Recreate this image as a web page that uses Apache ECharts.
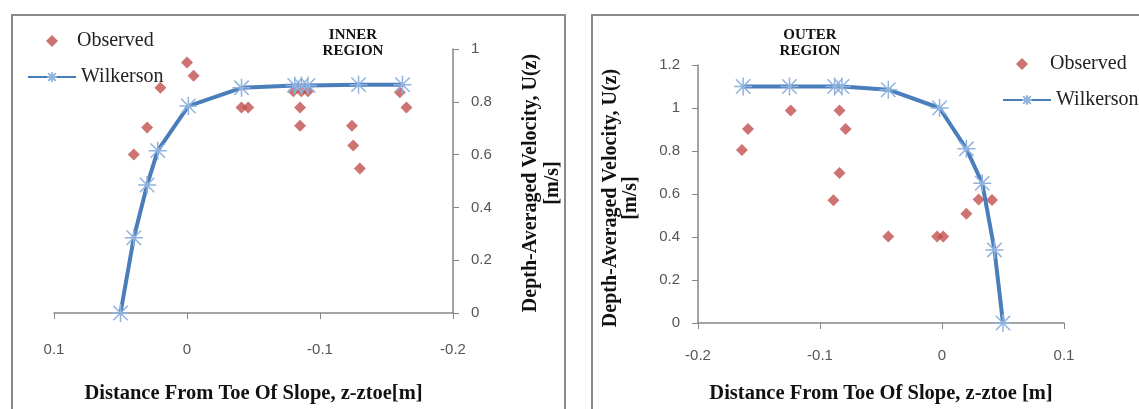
<!DOCTYPE html>
<html><head><meta charset="utf-8">
<script src="https://cdn.jsdelivr.net/npm/echarts@6/dist/echarts.min.js"></script>
<style>html,body{margin:0;padding:0;background:#fff}#c{width:1139px;height:409px}</style>
</head><body><div id="c"></div>
<script>
// ---- data ----
const seriesNames = ['Observed', 'Wilkerson'];
const panelTitles = ['INNER\nREGION', 'OUTER\nREGION'];
const xAxisTitle = ['Distance From Toe Of Slope, z-ztoe[m]', 'Distance From Toe Of Slope, z-ztoe [m]'];
const yAxisTitle = ['Depth-Averaged Velocity, U(z)', '[m/s]'];
const innerXTicks = [0.1, 0, -0.1, -0.2];
const innerYTicks = [0, 0.2, 0.4, 0.6, 0.8, 1];
const outerXTicks = [-0.2, -0.1, 0, 0.1];
const outerYTicks = [0, 0.2, 0.4, 0.6, 0.8, 1, 1.2];

// inner region [distance, velocity]
const innerObserved = [
  [0.000, 0.949], [-0.005, 0.899], [0.020, 0.853], [0.030, 0.703], [0.040, 0.600],
  [-0.041, 0.778], [-0.046, 0.778],
  [-0.080, 0.840], [-0.086, 0.840], [-0.091, 0.840], [-0.085, 0.778], [-0.085, 0.709],
  [-0.124, 0.709], [-0.125, 0.634], [-0.130, 0.547],
  [-0.160, 0.836], [-0.165, 0.778]
];
const innerWilkerson = [
  [0.050, 0.000], [0.040, 0.285], [0.030, 0.485], [0.022, 0.615], [-0.001, 0.784],
  [-0.041, 0.853], [-0.081, 0.862], [-0.086, 0.862], [-0.091, 0.862],
  [-0.129, 0.865], [-0.162, 0.865]
];
// outer region [distance, velocity]
const outerObserved = [
  [-0.164, 0.805], [-0.159, 0.902], [-0.124, 0.988], [-0.084, 0.988], [-0.079, 0.902],
  [-0.084, 0.698], [-0.089, 0.571], [-0.044, 0.402], [-0.004, 0.402], [0.001, 0.402],
  [0.020, 0.508], [0.030, 0.575], [0.041, 0.572]
];
const outerWilkerson = [
  [-0.163, 1.100], [-0.125, 1.100], [-0.088, 1.100], [-0.082, 1.100], [-0.044, 1.085],
  [-0.002, 1.000], [0.020, 0.810], [0.033, 0.650], [0.043, 0.340], [0.050, 0.000]
];

// ---- styles ----
const SERIF = '"Liberation Serif", "Times New Roman", serif';
const SANS = '"Liberation Sans", Arial, sans-serif';
const RED = '#c0504d';
const BLUE = '#4a7ebb';
const STAR_BLUE = '#8fb2de';
const AXIS = '#868686';
const STAR = 'path://M0,-10L0,10M-8,-8L8,8M-8,8L8,-8M-10,0L10,0';
const fmt = v => String(+(+v).toFixed(1));

function xAxisCfg(idx, ticks, inverse, margin, gap, title) {
  return {
    gridIndex: idx, type: 'value', inverse: inverse,
    min: Math.min(...ticks), max: Math.max(...ticks), interval: 0.1,
    splitLine: {show: false},
    axisLine: {onZero: false, lineStyle: {color: AXIS, width: 1.5}},
    axisTick: {show: true, length: 6, lineStyle: {color: AXIS}},
    axisLabel: {margin: margin, color: '#555', fontFamily: SANS, fontSize: 15, formatter: fmt},
    name: title, nameLocation: 'middle', nameGap: gap,
    nameTextStyle: {fontFamily: SERIF, fontSize: 20.5, fontWeight: 'bold', color: '#111'}
  };
}
function yAxisCfg(idx, ticks, pos) {
  return {
    gridIndex: idx, type: 'value', position: pos,
    min: Math.min(...ticks), max: Math.max(...ticks), interval: 0.2,
    splitLine: {show: false},
    axisLine: {show: true, onZero: false, lineStyle: {color: AXIS, width: 1.5}},
    axisTick: {show: true, length: 6, lineStyle: {color: AXIS}},
    axisLabel: {margin: 18, color: '#555', fontFamily: SANS, fontSize: 15, formatter: fmt}
  };
}
function obsSeries(idx, data) {
  return {name: seriesNames[0], type: 'scatter', xAxisIndex: idx, yAxisIndex: idx,
    data: data, symbol: 'diamond', symbolSize: 12, itemStyle: {color: RED}, z: 2};
}
function wilkSeries(idx, data) {
  return {name: seriesNames[1], type: 'line', xAxisIndex: idx, yAxisIndex: idx,
    data: data, symbol: STAR, symbolSize: 18, showAllSymbol: true,
    lineStyle: {color: BLUE, width: 4},
    itemStyle: {color: STAR_BLUE, borderColor: STAR_BLUE, borderWidth: 1.5}, z: 3};
}
function legendCfg(name, left, top, w, pad) {
  return {left: left, top: top, orient: 'vertical', itemWidth: w, itemHeight: 12,
    data: [name], selectedMode: false,
    textStyle: {fontFamily: SERIF, fontSize: 20, color: '#222', lineHeight: 20, padding: [0, 0, 0, pad]}};
}
function vtext(x, y, text) {
  return {type: 'text', x: x, y: y, rotation: Math.PI / 2,
    style: {text: text, align: 'center', verticalAlign: 'middle', font: 'bold 20px ' + SERIF, fill: '#111'}};
}
function ttext(x, y, text) {
  return {type: 'text', x: x, y: y,
    style: {text: text, align: 'center', verticalAlign: 'top', font: 'bold 15px ' + SERIF, fill: '#111', lineHeight: 16}};
}

const chart = echarts.init(document.getElementById('c'), null, {renderer: 'canvas'});
chart.setOption({
  animation: false,
  backgroundColor: '#fff',
  grid: [
    {left: 54, top: 49, width: 399, height: 267},
    {left: 698, top: 65, width: 366, height: 266}
  ],
  xAxis: [
    xAxisCfg(0, innerXTicks, true, 29, 70, xAxisTitle[0]),
    xAxisCfg(1, outerXTicks, false, 25, 60, xAxisTitle[1])
  ],
  yAxis: [
    yAxisCfg(0, innerYTicks, 'right'),
    yAxisCfg(1, outerYTicks, 'left')
  ],
  legend: [
    legendCfg(seriesNames[0], 41, 26, 12, 14),
    legendCfg(seriesNames[1], 22, 62, 48, 0),
    legendCfg(seriesNames[0], 1011, 49, 12, 17),
    legendCfg(seriesNames[1], 997, 85, 48, 0)
  ],
  series: [
    obsSeries(0, innerObserved), wilkSeries(0, innerWilkerson),
    obsSeries(1, outerObserved), wilkSeries(1, outerWilkerson)
  ],
  graphic: [
    {type: 'rect', shape: {x: 12, y: 15, width: 553, height: 420}, style: {fill: 'none', stroke: '#8a8a8a', lineWidth: 2}, z: -10},
    {type: 'rect', shape: {x: 592, y: 15, width: 560, height: 420}, style: {fill: 'none', stroke: '#8a8a8a', lineWidth: 2}, z: -10},
    ttext(353, 27, panelTitles[0]),
    ttext(810, 27, panelTitles[1]),
    vtext(531, 183, yAxisTitle[0]), vtext(553, 183, yAxisTitle[1]),
    vtext(611, 198, yAxisTitle[0]), vtext(631, 198, yAxisTitle[1])
  ]
});
</script>
</body></html>
